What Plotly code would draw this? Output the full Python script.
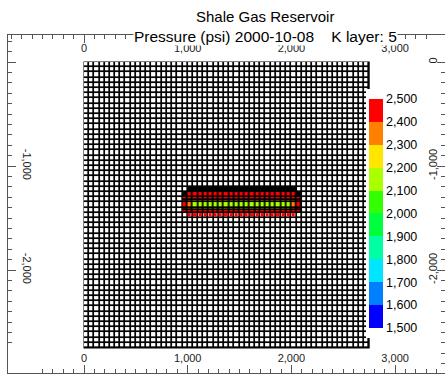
import plotly.graph_objects as go
import numpy as np

# ---- reservoir grid (55 x 55 cells, 50 ft blocks) ----
n_cols = 55
n_rows = 55
cell_ft = 50
initial_pressure = 2650  # above the plotted range, cells stay unfilled

# ---- refined (LGR) block around the hydraulic fracture ----
# columns 19..41 of the coarse grid
frac_x_edges = [950, 1000, 1050, 1100, 1150, 1200, 1250, 1300, 1350, 1400, 1450, 1500,
                1550, 1600, 1650, 1700, 1750, 1800, 1850, 1900, 1950, 2000, 2050, 2100]
# rows 25..29, inner rows split toward the fracture plane
frac_y_edges = [-1250, -1300, -1325, -1350, -1400, -1425, -1450, -1500]

# pressure (psi), top sub-row first
p_row_a = [None] + [2450] * 21 + [None]
p_row_b1 = [2450] + [2420] * 21 + [2450]
p_row_b2 = [2450, 2350] + [2260] * 19 + [2350, 2450]
p_row_c = [2450, 2330] + [2150] * 19 + [2330, 2450]
p_row_d2 = [2450, 2350] + [2260] * 19 + [2350, 2450]
p_row_d1 = [2450] + [2420] * 21 + [2450]
p_row_e = [None] + [2450] * 21 + [None]
frac_pressure = [p_row_a, p_row_b1, p_row_b2, p_row_c, p_row_d2, p_row_d1, p_row_e]

# ---- colour legend ----
scale_min = 1500
scale_max = 2500
bin_colors = ["#0000FF", "#0080FF", "#00E6FF", "#00FFA0", "#00FF3C",
              "#33FF00", "#AAFF00", "#FFE600", "#FF8000", "#FF0000"]
cbar_vals = [1500, 1600, 1700, 1800, 1900, 2000, 2100, 2200, 2300, 2400, 2500]
cbar_text = ["1,500", "1,600", "1,700", "1,800", "1,900", "2,000",
             "2,100", "2,200", "2,300", "2,400", "2,500"]

# ---- axis ticks ----
x_tickvals = [0, 1000, 2000, 3000]
x_ticktext = ["0", "1,000", "2,000", "3,000"]
y_tickvals = [0, -1000, -2000]
y_ticktext_left = ["", "-1,000", "-2,000"]
y_ticktext_right = ["0", "-1,000", "-2,000"]

FONT = "Liberation Sans, Arial, sans-serif"
AX_COLOR = "#555555"

# discrete colourscale
cs = []
nb = len(bin_colors)
for k, c in enumerate(bin_colors):
    cs.append([k / nb, c])
    cs.append([(k + 1) / nb, c])

# coarse grid: white cells, blanked where the refined block is drawn
x_edges = np.arange(n_cols + 1) * cell_ft
y_edges = -np.arange(n_rows + 1) * cell_ft
base = np.full((n_rows, n_cols), float(initial_pressure))
frac_z = np.array([[np.nan if v is None else v for v in r] for r in frac_pressure])
c0 = int(round(frac_x_edges[0] / cell_ft))
for jj in range(len(frac_y_edges) - 1):
    row = int((-frac_y_edges[jj] - 1e-6) // cell_ft)
    for ii in range(len(frac_x_edges) - 1):
        if not np.isnan(frac_z[jj, ii]):
            base[row, c0 + ii] = np.nan

GAP = 1.7

fig = go.Figure()
fig.add_trace(go.Heatmap(
    x=x_edges, y=y_edges, z=base,
    colorscale=[[0, "white"], [1, "white"]], showscale=False,
    xgap=GAP, ygap=GAP, hoverinfo="skip",
))
fig.add_trace(go.Heatmap(
    x=frac_x_edges, y=frac_y_edges, z=frac_z,
    colorscale=cs, zmin=scale_min, zmax=scale_max,
    xgap=GAP, ygap=GAP, hoverinfo="skip",
    colorbar=dict(
        x=(366 - 8) / 437, xanchor="left", xpad=3,
        y=1 - (213.5 - 35) / 338, yanchor="middle",
        lenmode="pixels", len=249, ypad=10,
        thickness=14, thicknessmode="pixels",
        bgcolor="white", outlinewidth=0, borderwidth=0,
        tickmode="array", tickvals=cbar_vals, ticktext=cbar_text,
        ticks="", ticklen=0,
        tickfont=dict(family=FONT, size=12.5, color="black"),
    ),
))

# black backing that shows through the cell gaps as grid lines
fig.add_shape(type="rect", x0=-5, x1=n_cols * cell_ft + 5, y0=5, y1=-n_rows * cell_ft - 5,
              fillcolor="black", line=dict(width=0), layer="below")

x_range = [-733, 3481]
y_range = [-2990, 260]

common = dict(
    showline=True, linecolor=AX_COLOR, linewidth=1, mirror=False,
    ticks="inside", ticklen=8, tickcolor=AX_COLOR, tickwidth=1,
    ticklabelposition="inside", showgrid=False, zeroline=False,
    tickfont=dict(family=FONT, size=11, color="#222222"),
    minor=dict(ticks="inside", ticklen=4, tickcolor=AX_COLOR,
               tickmode="linear", tick0=0, dtick=100, showgrid=False),
)

fig.update_layout(
    width=445, height=374,
    margin=dict(l=8, r=0, t=35, b=1, autoexpand=False),
    paper_bgcolor="white", plot_bgcolor="white",
    showlegend=False,
    xaxis=dict(range=x_range, tickmode="array", tickvals=x_tickvals,
               ticktext=x_ticktext, side="bottom", **common),
    xaxis2=dict(range=x_range, matches="x", overlaying="x", tickmode="array",
                tickvals=x_tickvals, ticktext=x_ticktext, side="top",
                ticklabelstandoff=1, **common),
    yaxis=dict(range=y_range, tickmode="array", tickvals=y_tickvals,
               ticktext=y_ticktext_left, side="left", tickangle=90,
               ticklabelstandoff=4, **common),
    yaxis2=dict(range=y_range, matches="y", overlaying="y", tickmode="array",
                tickvals=y_tickvals, ticktext=y_ticktext_right, side="right",
                tickangle=-90, ticklabelstandoff=-3, **common),
    annotations=[
        dict(text="Shale Gas Reservoir", xref="paper", yref="paper",
             x=(265 - 8) / 437, y=1 + (35 - 17) / 338, xanchor="center", yanchor="middle",
             showarrow=False, font=dict(family=FONT, size=15, color="black")),
        dict(text="Pressure (psi) 2000-10-08    K layer: 5", xref="paper", yref="paper",
             x=(265 - 8) / 437, y=1 - (36.5 - 35) / 338, xanchor="center", yanchor="middle",
             showarrow=False, bgcolor="white", borderpad=0,
             font=dict(family=FONT, size=15.5, color="black")),
    ],
)

# invisible carriers so the top and right axes are drawn
fig.add_trace(go.Scatter(x=[None], y=[None], xaxis="x2", yaxis="y2",
                         mode="markers", hoverinfo="skip", showlegend=False))

fig.write_html("out.html")
